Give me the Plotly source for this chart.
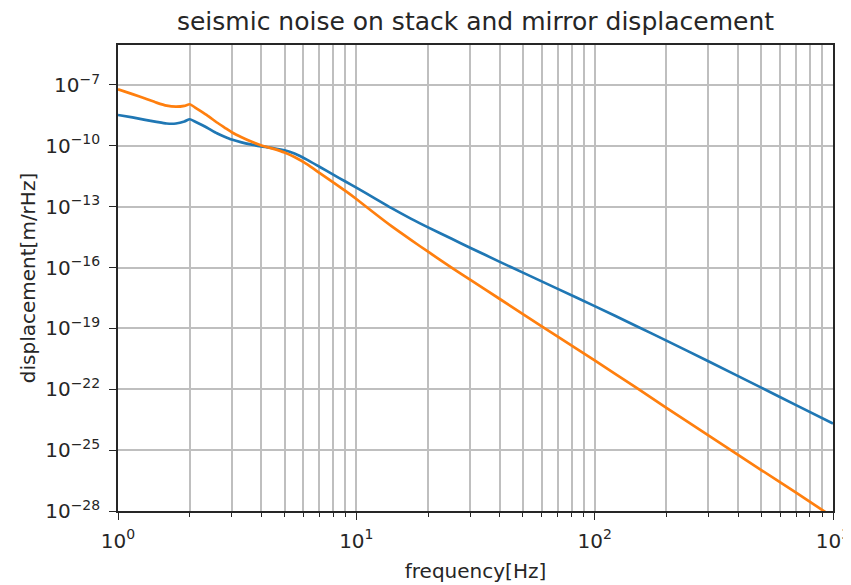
import numpy as np
import plotly.graph_objects as go

freq = [1, 1.15, 1.3, 1.45, 1.6, 1.75, 1.9, 2.0, 2.1, 2.25, 2.4, 2.6, 2.8, 3.0, 3.3, 3.6,
        4.0, 4.5, 5.0, 5.5, 6.2, 7.0, 8.0, 9.0, 10, 12, 14, 17, 20, 25, 30, 40, 50, 70,
        100, 150, 200, 300, 500, 700, 1000]

stack_log10 = [-8.48, -8.60, -8.72, -8.82, -8.90, -8.90, -8.80, -8.69, -8.80, -8.97, -9.15,
               -9.38, -9.55, -9.69, -9.83, -9.93, -10.03, -10.12, -10.22, -10.38, -10.68,
               -11.03, -11.42, -11.76, -12.06, -12.6, -13.06, -13.6, -14.02, -14.57, -15.02,
               -15.72, -16.25, -17.05, -17.9, -18.89, -19.6, -20.62, -21.92, -22.78, -23.69]

mirror_log10 = [-7.21, -7.45, -7.67, -7.87, -8.02, -8.07, -8.03, -7.95, -8.10, -8.33, -8.55,
                -8.85, -9.10, -9.33, -9.58, -9.78, -9.98, -10.15, -10.33, -10.55, -10.9,
                -11.33, -11.8, -12.22, -12.62, -13.35, -13.95, -14.65, -15.22, -15.99, -16.6,
                -17.55, -18.3, -19.4, -20.58, -21.93, -22.92, -24.27, -25.98, -27.1, -28.3]

stack = [10.0 ** v for v in stack_log10]
mirror = [10.0 ** v for v in mirror_log10]

y_tick_exps = [-28, -25, -22, -19, -16, -13, -10, -7]
x_major = [1, 10, 100, 1000]
x_major_text = ["10<sup>0</sup>", "10<sup>1</sup>", "10<sup>2</sup>", "10<sup>3</sup>"]
x_minor = [d * m for d in [1, 10, 100] for m in range(2, 10)]

y_vals = [10.0 ** e for e in y_tick_exps]
y_text = ["10<sup>\u2212%d</sup>" % (-e) for e in y_tick_exps]

fig = go.Figure()
fig.add_trace(go.Scatter(x=freq, y=stack, mode="lines", name="stack",
                         line=dict(color="#1f77b4", width=2.7, shape="spline", smoothing=0.6)))
fig.add_trace(go.Scatter(x=freq, y=mirror, mode="lines", name="mirror",
                         line=dict(color="#ff7f0e", width=2.7, shape="spline", smoothing=0.6)))

fnt = "DejaVu Sans"
txt = "#262626"
grid = "#bfbfbf"
fig.update_layout(
    width=843, height=577,
    paper_bgcolor="white", plot_bgcolor="white",
    margin=dict(l=110, r=18, t=37, b=74, autoexpand=False),
    showlegend=False,
    font=dict(family=fnt, size=20, color=txt),
    title=dict(text="seismic noise on stack and mirror displacement",
               x=0.5, xanchor="center", xref="paper", y=1 - 13.0 / 577, yref="container",
               yanchor="middle",
               font=dict(family=fnt, size=25, color=txt)),
)
fig.update_xaxes(
    type="log", range=[0, 3], automargin=False,
    tickmode="array", tickvals=x_major, ticktext=x_major_text,
    ticks="outside", ticklen=7, tickwidth=1.4, tickcolor=txt,
    ticklabelstandoff=4,
    minor=dict(tickmode="array", tickvals=x_minor, ticks="outside", ticklen=4,
               tickwidth=1.2, tickcolor=txt, showgrid=True, gridcolor=grid, gridwidth=1.5),
    showgrid=True, gridcolor=grid, gridwidth=1.5,
    showline=True, linecolor=txt, linewidth=1.6, mirror=True,
    zeroline=False,
    tickfont=dict(family=fnt, size=20, color=txt),
    title=dict(text="frequency[Hz]", standoff=12, font=dict(family=fnt, size=20, color=txt)),
)
fig.update_yaxes(
    type="log", range=[-28, -5.03], automargin=False,
    tickmode="array", tickvals=y_vals, ticktext=y_text,
    ticks="outside", ticklen=7, tickwidth=1.4, tickcolor=txt,
    ticklabelstandoff=5,
    showgrid=True, gridcolor=grid, gridwidth=1.5,
    showline=True, linecolor=txt, linewidth=1.6, mirror=True,
    zeroline=False,
    tickfont=dict(family=fnt, size=20, color=txt),
    title=dict(text="displacement[m/rHz]", standoff=4, font=dict(family=fnt, size=20, color=txt)),
)

fig.write_html("out.html")
